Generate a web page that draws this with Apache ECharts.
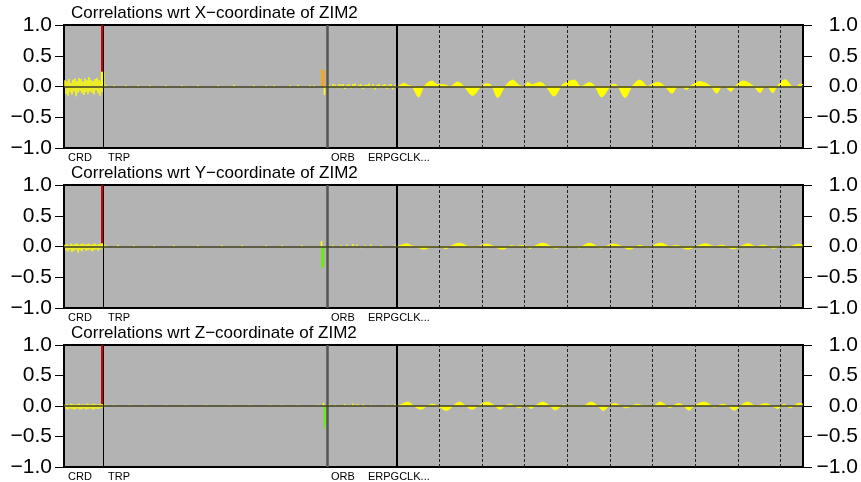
<!DOCTYPE html>
<html><head><meta charset="utf-8">
<script src="https://cdn.jsdelivr.net/npm/echarts@6/dist/echarts.min.js"></script>
<style>html,body{margin:0;padding:0;background:#fff}#c{width:861px;height:482px}</style>
</head><body><div id="c"></div>
<script>
// ---------- data ----------
const titles = ['Correlations wrt X\u2212coordinate of ZIM2','Correlations wrt Y\u2212coordinate of ZIM2','Correlations wrt Z\u2212coordinate of ZIM2'];
const sectionLabels = ['CRD','TRP','ORB','ERPGCLK...'];
const sectionLabelPos = [4, 44, 267, 304];
const sectionBounds = [39.2, 263, 332.5];
const clockBlocks = [375.3, 417.9, 460.6, 503.2, 545.9, 588.5, 631.2, 673.8, 716.5];
const yTicks = [-1, -0.5, 0, 0.5, 1];

const crdX = [0.10,-0.12,0.08,-0.15,0.12,-0.09,0.06,-0.13,0.11,-0.08,0.13,-0.16,0.09,-0.10,0.14,-0.07,0.12,-0.11,0.08,-0.14,0.13,-0.09,0.10,-0.12,0.15,-0.08,0.11,-0.10,0.09,-0.13,0.12,-0.06,0.14,-0.11,0.10,-0.15,0.08,-0.09];
const crdY = [0.03,-0.06,0.04,-0.08,0.02,-0.05,0.05,-0.09,0.03,-0.07,0.04,-0.05,0.05,-0.10,0.03,-0.06,0.04,-0.08,0.05,-0.04,0.03,-0.07,0.04,-0.06,0.05,-0.05,0.03,-0.08,0.04,-0.06,0.05,-0.04,0.03,-0.07,0.04,-0.05,0.05,-0.03];
const crdZ = [0.02,-0.05,0.03,-0.06,0.02,-0.04,0.04,-0.05,0.03,-0.06,0.02,-0.05,0.03,-0.04,0.04,-0.06,0.02,-0.05,0.03,-0.04,0.02,-0.06,0.04,-0.05,0.03,-0.04,0.02,-0.05,0.04,-0.06,0.03,-0.04,0.02,-0.05,0.03,-0.04,0.04,-0.03];

const trpX = [0.03,0,0.02,0,0,0.02,0,0,0.02,0,0,0.02,0,0,0,0.02,0,0,0,0.02,-0.02,0,0,0.02,0,0,0,0,0.02,0,0,0,0.03,0,0,0,0,0.02,0,0,0.02,0,0.02,0,0,0,0.02,0,0.03,0,0,0.02,0.02,0,0,-0.02];
const trpY = [0.02,0,0,0.03,0,0,0,0.02,0,0,0,0,0.02,0,0,0,0,0.02,0,0,0,0,0,0.02,0,0,0,0,0,0.02,0,0,0,0,0.02,0,0,0,0,0,0.02,0,0,0,0.02,0,0,0,0,0.02,0,0,0,0,0.02,0];
const trpZ = [0.02,0,0.02,0,0,0,0.02,0,0,0,0.02,0,0,0,0,0.02,0,0,0,0,0.02,0,0,0,0,0.02,0,0,0,0,0,0.02,0,0,0,0,0.02,0,0,0,0,0.02,0,0,0.02,0,0,0,0.02,0,0,0,0,0.02,0,0];

const orbX = [0.03,-0.02,0.04,0.03,-0.03,0.04,0.03,0.04,-0.04,0.03,0.04,-0.03,0.04,0.05,-0.02,0.03,0.04,-0.04,0.03,0.03,0.05,-0.03,0.04,-0.05,0.03,0.04,-0.03,0.03,0.04,-0.04,0.03,0.04,-0.05,0.03,0.12];
const orbY = [0,0,0.02,0,0,0,0.02,0,0,0.03,0,0,0.04,0,0.03,0,-0.03,0,0.02,0,0,0.03,0,0,0,0,0.02,0,0,0,0,0,0,0.02,0.05];
const orbZ = [0.03,0,0,0.02,0,0,0,0,0.03,0,0.02,0,0.04,0,0.03,0.02,0,0.03,-0.02,0,0,0.02,0,0,0,0,0,0,0,0.02,0,0,0,0.03,0.05];

// self correlation (red), next-param values (yellow), own troposphere (orange/green)
const selfCorr = [1.0, 1.0, 1.0];
const nextToSelf = [0.24, 0.05, 0.03];
const tropoOwnX = [[258, 0.28], [260, 0.27], [260.5, -0.14]];
const tropoOwnY = [[257.5, 0.09], [258, -0.35], [259.5, -0.33]];
const tropoOwnZ = [[259.5, 0.05], [260.5, -0.38], [262, -0.30]];

const clockX = [[333,0],[337,0.03],[340,0.054],[344,0.02],[348,0],[354.7,-0.17],[360,0],[368,0.09],[374,0.03],[380,0.03],[386,0],[393.7,0.075],[400,0],[408.7,-0.145],[417,0],[423.7,0.05],[428,0],[433.7,-0.18],[441,0],[448.7,0.105],[455,0.02],[460,0],[463.7,0.07],[468,0.03],[476,0.07],[482,0],[490,-0.155],[497,0],[500,0.05],[510.3,0.105],[517,0],[525.3,0.065],[531,0],[537.7,-0.17],[546,0],[550,0.04],[554,0],[561,-0.18],[568,0],[576,0.105],[584,0],[586,0.02],[594,0.07],[601,0],[608,-0.11],[614,0],[617,0],[622.7,-0.05],[626,0],[636,0.08],[647,0],[652.7,-0.11],[658,0],[661,0],[666.7,-0.08],[671,0],[679.3,0.09],[690,0],[696,-0.1],[701,0],[703,0],[708.7,-0.1],[713,0],[721,0.11],[728,0],[730,-0.02],[733,0],[736,0.04],[739,0.03]];
const clockY = [[333,0],[337,0.02],[342.7,0.045],[348,0.01],[352,0],[360.3,-0.045],[368,0],[376,0],[382,-0.035],[386,0],[395.3,0.055],[404,0],[410.7,-0.02],[414,0],[422.7,0.04],[430,0],[438.7,-0.045],[445,0],[447,0.015],[452,0],[460.7,0.02],[463,0],[466,-0.03],[470,0],[478.7,0.055],[487,0],[492,-0.03],[497,0],[512,0],[515,-0.025],[518,0],[525.3,0.055],[533,0],[537,-0.025],[541,0],[550.3,0.04],[558,0],[565.3,-0.045],[572,0],[576,0.02],[580,0],[583,-0.02],[587,0],[597,0.055],[606,0],[612.7,0.02],[616,0],[623.7,-0.045],[632,0],[642,0.045],[651,0],[658,0.025],[662,0],[669.3,-0.04],[676,0],[684.3,0.045],[692,0],[699.5,0.025],[704,0],[710,-0.03],[716,0],[720,0],[723.7,-0.025],[727,0],[734.7,0.04],[739,0.02]];
const clockZ = [[333,0],[338,0.03],[343.7,0.065],[350,0],[357,-0.055],[363,0],[368.7,0.03],[374,0],[382.7,-0.075],[389,0],[395.3,0.065],[402,0],[408,-0.055],[414,0],[423.7,0.065],[431,0],[436,-0.055],[441,0],[446.3,0.03],[451,0],[455.3,-0.03],[460,0],[463,0],[467,-0.04],[471,0],[478.7,0.065],[486,0],[491.3,-0.065],[497,0],[500,0.02],[503,0],[519,0],[527,0.065],[534,0],[539.3,-0.075],[545,0],[551,0.04],[557,0],[562.7,-0.03],[567,0],[573.7,0.03],[580,0],[589,0],[596,0.065],[603,0],[606,-0.03],[609,0],[614.7,0.04],[620,0],[624.7,-0.07],[630,0],[640.3,0.065],[648,0],[650.3,-0.02],[653,0],[658.7,0.03],[664,0],[670.3,-0.07],[676,0],[683.7,0.065],[692,0],[701.3,0.04],[708,0],[713.7,-0.04],[717,0],[720.3,0.03],[723,0],[726.3,-0.03],[730,0],[734.7,0.045],[739,0.03]];

// ---------- build ----------
const FONT = 'Liberation Sans, Arial, Helvetica, sans-serif';
const YEL = '#ffff00';
const panels = [
  {crd: crdX, trp: trpX, orb: orbX, own: tropoOwnX, ownColor: '#ffa500', clock: clockX},
  {crd: crdY, trp: trpY, orb: orbY, own: tropoOwnY, ownColor: '#66ee00', clock: clockY},
  {crd: crdZ, trp: trpZ, orb: orbZ, own: tropoOwnZ, ownColor: '#66ee00', clock: clockZ}
];
const tops = [25, 185, 345];
const grid = [], xAxis = [], yAxis = [], series = [], title = [];
const fmt = v => (v < 0 ? '\u2212' : '') + Math.abs(v).toFixed(1);

panels.forEach((p, i) => {
  grid.push({left: 64, width: 739, top: tops[i], height: 123, show: true,
    backgroundColor: '#b3b3b3', borderColor: '#000', borderWidth: 2});
  title.push({text: titles[i], left: 66, top: tops[i] - 25,
    textStyle: {fontFamily: FONT, fontSize: 17, fontWeight: 'normal', color: '#000'}});
  xAxis.push({gridIndex: i, type: 'value', min: 0, max: 739,
    axisLine: {show: false}, axisTick: {show: false}, splitLine: {show: false},
    axisLabel: {customValues: sectionLabelPos, align: 'left', margin: 4,
      fontFamily: FONT, fontSize: 11, color: '#000',
      formatter: v => sectionLabels[sectionLabelPos.indexOf(v)] || ''}});
  ['left', 'right'].forEach(pos => {
    yAxis.push({gridIndex: i, type: 'value', position: pos, min: -1, max: 1, interval: 0.5,
      axisLine: {show: false}, splitLine: {show: false},
      axisTick: {show: true, length: 9, lineStyle: {color: '#000', width: 1}},
      axisLabel: {fontFamily: FONT, fontSize: 21, color: '#000', formatter: fmt,
        align: 'right', margin: pos === 'left' ? 12 : 55}});
  });
  // wave (clock section)
  series.push({type: 'line', xAxisIndex: i, yAxisIndex: 2 * i, data: p.clock, smooth: 0.35,
    showSymbol: false, silent: true, z: 2,
    lineStyle: {color: YEL, width: 0.8}, areaStyle: {color: YEL, opacity: 1}});
  // separators
  const ml = [
    {xAxis: sectionBounds[0], lineStyle: {color: '#000', width: 1, type: 'solid'}},
    {xAxis: sectionBounds[1], lineStyle: {color: '#555555', width: 2.5, type: 'solid'}},
    {xAxis: sectionBounds[2], lineStyle: {color: '#000', width: 2, type: 'solid'}}
  ].concat(clockBlocks.map(b => ({xAxis: b, lineStyle: {color: '#222', width: 1, type: [3, 2]}})));
  series.push({type: 'line', xAxisIndex: i, yAxisIndex: 2 * i, data: [], z: 3,
    markLine: {silent: true, symbol: 'none', label: {show: false}, data: ml, animation: false}});
  // bars
  const bars = [];
  p.crd.forEach((v, k) => bars.push({value: [1 + k, v], itemStyle: {color: YEL}}));
  p.trp.forEach((v, k) => { if (v) bars.push({value: [42 + 4 * k, v], itemStyle: {color: YEL}}); });
  p.orb.forEach((v, k) => { if (v) bars.push({value: [265 + 2 * k, v], itemStyle: {color: YEL}}); });
  bars.push({value: [37.8, selfCorr[i]], itemStyle: {color: '#c80000'}});
  bars.push({value: [38.6, selfCorr[i]], itemStyle: {color: '#c80000'}});
  [37.6, 38.6, 39.6].forEach(x => bars.push({value: [x, nextToSelf[i]], itemStyle: {color: YEL}}));
  p.own.forEach(o => bars.push({value: o, itemStyle: {color: (i === 0 ? (o[1] > 0 ? p.ownColor : YEL) : (o[1] < 0 ? p.ownColor : YEL))}}));
  series.push({type: 'bar', xAxisIndex: i, yAxisIndex: 2 * i, data: bars, barWidth: 1.5, z: 4, silent: true});
  // zero line on top
  series.push({type: 'line', xAxisIndex: i, yAxisIndex: 2 * i, data: [], z: 5,
    markLine: {silent: true, symbol: 'none', label: {show: false}, animation: false,
      data: [{yAxis: 0, lineStyle: {color: '#424222', width: 1.5, type: 'solid'}}]}});
});

const chart = echarts.init(document.getElementById('c'), null, {renderer: 'canvas'});
chart.setOption({animation: false, backgroundColor: '#fff', title, grid, xAxis, yAxis, series});
</script></body></html>
